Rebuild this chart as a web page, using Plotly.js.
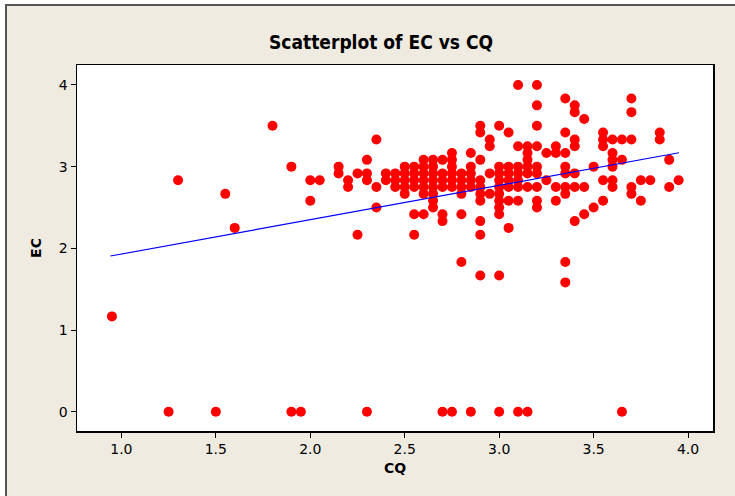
<!DOCTYPE html>
<html><head><meta charset="utf-8">
<script src="https://cdn.plot.ly/plotly-3.0.1.min.js"></script>
<style>html,body{margin:0;padding:0;background:#fff;}#chart{width:735px;height:496px;}</style>
</head><body><div id="chart"></div>
<script>
// CQ values (x) and EC values (y)
const cq = [
 0.95, 1.3, 1.55, 1.6, 1.8, 1.9,
 2.0, 2.0, 2.05, 2.15, 2.15, 2.2, 2.2, 2.25, 2.25,
 2.3, 2.3, 2.3, 2.35, 2.35, 2.35, 2.4, 2.4, 2.45, 2.45, 2.45,
 2.5, 2.5, 2.5, 2.5, 2.5,
 2.55, 2.55, 2.55, 2.55, 2.55, 2.55,
 2.6, 2.6, 2.6, 2.6, 2.6, 2.6, 2.6,
 2.65, 2.65, 2.65, 2.65, 2.65, 2.65, 2.65, 2.65,
 2.7, 2.7, 2.7, 2.7, 2.7, 2.7,
 2.75, 2.75, 2.75, 2.75, 2.75, 2.75,
 2.8, 2.8, 2.8, 2.8, 2.8, 2.8,
 2.85, 2.85, 2.85, 2.85, 2.85,
 2.9, 2.9, 2.9, 2.9, 2.9, 2.9, 2.9, 2.9, 2.9, 2.9,
 2.95, 2.95, 2.95, 2.95,
 3.0, 3.0, 3.0, 3.0, 3.0, 3.0, 3.0, 3.0, 3.0, 3.0,
 3.05, 3.05, 3.05, 3.05, 3.05, 3.05, 3.05,
 3.1, 3.1, 3.1, 3.1, 3.1, 3.1, 3.1,
 3.15, 3.15, 3.15, 3.15, 3.15, 3.15,
 3.2, 3.2, 3.2, 3.2, 3.2, 3.2, 3.2, 3.2, 3.2,
 3.25, 3.25,
 3.3, 3.3, 3.3, 3.3,
 3.35, 3.35, 3.35, 3.35, 3.35, 3.35, 3.35, 3.35, 3.35,
 3.4, 3.4, 3.4, 3.4, 3.4, 3.4, 3.4,
 3.45, 3.45, 3.45,
 3.5, 3.5,
 3.55, 3.55, 3.55, 3.55, 3.55,
 3.6, 3.6, 3.6, 3.6, 3.6, 3.6,
 3.65, 3.65,
 3.7, 3.7, 3.7, 3.7, 3.7,
 3.75, 3.75, 3.8, 3.85, 3.85, 3.9, 3.9, 3.95,
 1.25, 1.5, 1.9, 1.95, 2.3, 2.7, 2.75, 2.85, 3.0, 3.1, 3.15, 3.65
];
const ec = [
 1.167, 2.833, 2.667, 2.25, 3.5, 3.0,
 2.833, 2.583, 2.833, 3.0, 2.917, 2.833, 2.75, 2.917, 2.167,
 3.083, 2.917, 2.833, 3.333, 2.75, 2.5, 2.917, 2.833, 2.917, 2.833, 2.75,
 3.0, 2.917, 2.833, 2.75, 2.667,
 3.0, 2.917, 2.833, 2.75, 2.417, 2.167,
 3.083, 3.0, 2.917, 2.833, 2.75, 2.667, 2.417,
 3.083, 3.0, 2.917, 2.833, 2.75, 2.667, 2.583, 2.5,
 3.083, 2.917, 2.833, 2.75, 2.417, 2.333,
 3.167, 3.083, 3.0, 2.917, 2.833, 2.75,
 2.917, 2.833, 2.75, 2.667, 2.417, 1.833,
 3.167, 3.0, 2.917, 2.833, 2.75,
 3.5, 3.417, 3.083, 2.833, 2.75, 2.667, 2.583, 2.333, 2.167, 1.667,
 3.333, 3.25, 2.917, 2.667,
 3.5, 3.0, 2.917, 2.833, 2.75, 2.667, 2.583, 2.5, 2.417, 1.667,
 3.417, 3.0, 2.917, 2.833, 2.75, 2.583, 2.25,
 4.0, 3.25, 3.0, 2.917, 2.833, 2.75, 2.583,
 3.25, 3.167, 3.083, 3.0, 2.917, 2.75,
 4.0, 3.75, 3.5, 3.25, 3.0, 2.917, 2.75, 2.583, 2.5,
 3.167, 2.833,
 3.25, 3.167, 2.75, 2.583,
 3.833, 3.417, 3.167, 3.0, 2.917, 2.75, 2.667, 1.833, 1.583,
 3.75, 3.667, 3.333, 3.25, 2.917, 2.75, 2.333,
 3.583, 2.75, 2.417,
 3.0, 2.5,
 3.417, 3.333, 3.25, 2.833, 2.583,
 3.333, 3.167, 3.083, 3.0, 2.833, 2.75,
 3.333, 3.083,
 3.833, 3.667, 3.333, 2.75, 2.667,
 2.833, 2.583, 2.833, 3.417, 3.333, 3.083, 2.75, 2.833,
 0, 0, 0, 0, 0, 0, 0, 0, 0, 0, 0, 0
];
// fitted regression line end points
const fitX = [0.942, 3.952];
const fitY = [1.906, 3.17];
const xTicks = [1.0, 1.5, 2.0, 2.5, 3.0, 3.5, 4.0];
const yTicks = [0, 1, 2, 3, 4];

const W = 735, H = 496, L = 77, R = 22, T = 65, B = 65;
const pw = W - L - R, ph = H - T - B;
function px(x){ return (x - L) / pw; }
function py(y){ return (H - B - y) / ph; }

const data = [
 {x: cq, y: ec, type: 'scatter', mode: 'markers',
  marker: {color: '#ff0000', size: 10, line: {width: 0}}, hoverinfo: 'x+y'},
 {x: fitX, y: fitY, type: 'scatter', mode: 'lines',
  line: {color: '#0000ff', width: 1.2}}
];
const tickFont = {size: 14, color: '#000', family: 'DejaVu Sans, Verdana, sans-serif'};
const layout = {
 width: W, height: H, showlegend: false,
 paper_bgcolor: '#ffffff', plot_bgcolor: '#ffffff',
 margin: {l: L, r: R, t: T, b: B, pad: 0},
 font: {size: 14, color: '#000', family: 'DejaVu Sans, Verdana, sans-serif'},
 title: {text: '<b>Scatterplot of EC vs CQ</b>', x: px(381), xref: 'paper', xanchor: 'center',
   y: 1 - 42/H, yref: 'container', yanchor: 'middle',
   font: {family: 'DejaVu Sans Condensed, DejaVu Sans, sans-serif', size: 19, color: '#000'}},
 xaxis: {range: [0.765, 4.132], tickvals: xTicks, ticktext: xTicks.map(v => v.toFixed(1)),
   ticks: 'outside', ticklen: 5, tickwidth: 1, tickcolor: '#000',
   showline: true, linecolor: '#000', linewidth: 1.5, mirror: true,
   showgrid: false, zeroline: false, automargin: false,
   tickfont: tickFont,
   title: {text: '<b>CQ</b>', standoff: 7, font: {size: 14, color: '#000', family: 'DejaVu Sans, sans-serif'}}},
 yaxis: {range: [-0.236, 4.244], tickvals: yTicks, ticktext: yTicks.map(String),
   ticks: 'outside', ticklen: 5, tickwidth: 1, tickcolor: '#000',
   showline: true, linecolor: '#000', linewidth: 1.5, mirror: true,
   showgrid: false, zeroline: false, automargin: false,
   tickfont: tickFont,
   title: {text: '<b>EC</b>', standoff: 14, font: {size: 14, color: '#000', family: 'DejaVu Sans, sans-serif'}}},
 shapes: [
  {type: 'rect', xref: 'paper', yref: 'paper', layer: 'below',
   x0: px(6), x1: px(745), y0: py(5), y1: py(505),
   fillcolor: '#efebe1', line: {color: '#555555', width: 2}},
  {type: 'rect', xref: 'paper', yref: 'paper', layer: 'below',
   x0: 0, x1: 1, y0: 0, y1: 1, fillcolor: '#ffffff', line: {width: 0}}
 ]
};
Plotly.newPlot('chart', data, layout, {displayModeBar: false, staticPlot: true});
</script></body></html>
